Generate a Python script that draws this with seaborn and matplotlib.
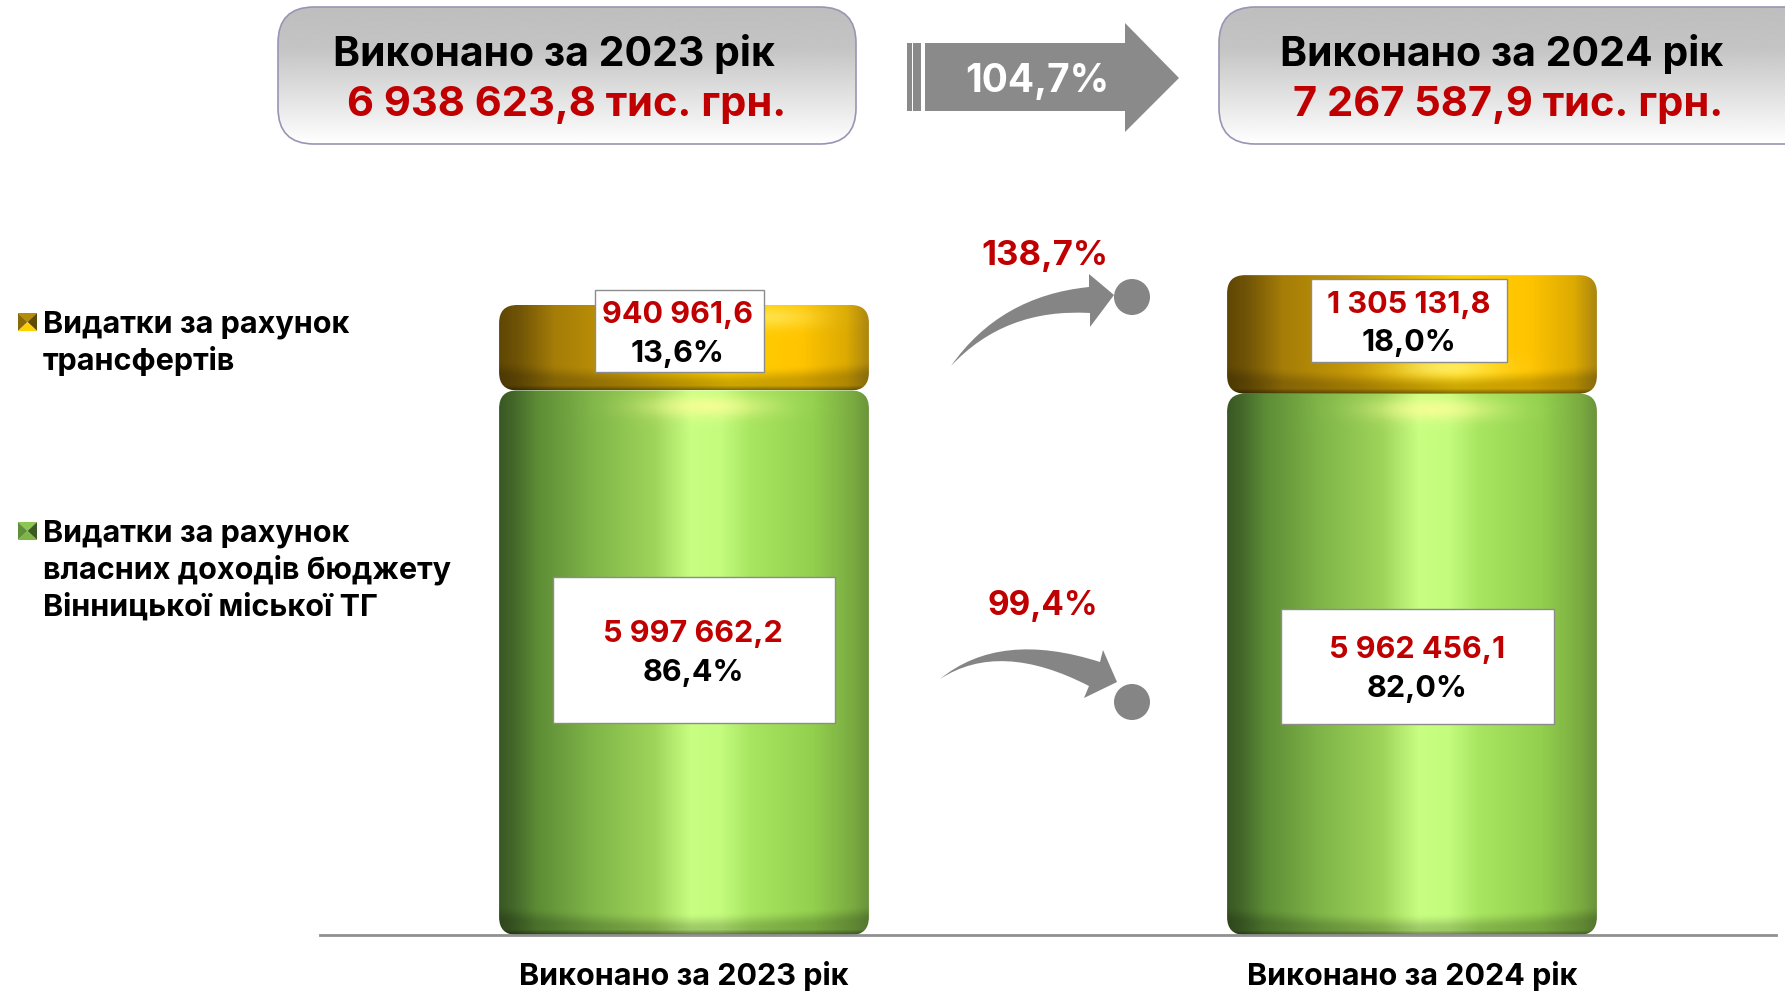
"""Stacked budget bars with glossy gradient fill and slide-style callouts."""
import matplotlib
matplotlib.use("Agg")
import matplotlib.pyplot as plt
import numpy as np
import pandas as pd
import seaborn as sns
from matplotlib.patches import Circle, FancyBboxPatch, PathPatch, Polygon, Rectangle
from matplotlib.path import Path as MPath
from matplotlib.transforms import IdentityTransform

OUT_PATH = "out.png"
W, H = 1785, 992

YEARS = ["Виконано за 2023 рік", "Виконано за 2024 рік"]
OWN_VALUES = [5997662.2, 5962456.1]
TRANSFER_VALUES = [940961.6, 1305131.8]
OWN_LABELS = ["5 997 662,2", "5 962 456,1"]
TRANSFER_LABELS = ["940 961,6", "1 305 131,8"]
OWN_SHARES = ["86,4%", "82,0%"]
TRANSFER_SHARES = ["13,6%", "18,0%"]
TOTAL_LABELS = ["6 938 623,8 тис. грн.", "7 267 587,9 тис. грн."]
GROWTH_TOTAL = "104,7%"
GROWTH_TRANSFER = "138,7%"
GROWTH_OWN = "99,4%"
LEGEND_TRANSFER = ["Видатки за рахунок", "трансфертів"]
LEGEND_OWN = ["Видатки за рахунок", "власних доходів бюджету", "Вінницької міської ТГ"]

RED = "#c00000"
GRAY = "#8a8a8a"
FONT = ["Inter", "DejaVu Sans"]
GREEN_STOPS = [(0.0, "#3a5724"), (0.04, "#44682a"), (0.1, "#5c8b35"), (0.25, "#7fb548"), (0.42, "#9fd45a"),
               (0.52, "#c8ff82"), (0.6, "#c4fc7e"), (0.68, "#a8e560"), (0.85, "#93d04e"), (0.96, "#79aa40"), (1.0, "#6a943a")]
GOLD_STOPS = [(0.0, "#5f4704"), (0.05, "#6f5306"), (0.15, "#a57d08"), (0.35, "#c89a05"), (0.5, "#e8b800"),
              (0.62, "#ffd000"), (0.82, "#ffc400"), (0.94, "#dcaa02"), (1.0, "#ab860f")]
PYRAMID_GOLD = ["#b58c08", "#8a6a08", "#5f4a04", "#ffd000"]  # top, left, right, bottom
PYRAMID_GREEN = ["#8cc850", "#5f8f38", "#3a5a22", "#7fb548"]


def rgb(c):
    return np.array(matplotlib.colors.to_rgb(c))


def shaded_image(stops, px_h, glow_x, glow_y, glow_w, glow_strength):
    """Cylinder shading: horizontal colour ramp, soft dark arc at the bottom, one glow spot."""
    xs = np.linspace(0, 1, 370)
    ys = np.arange(int(round(px_h))) + 0.5
    pos = [s[0] for s in stops]
    cols = np.array([rgb(s[1]) for s in stops])
    ramp = np.stack([np.interp(xs, pos, cols[:, i]) for i in range(3)], axis=1)
    img = np.repeat(ramp[None, :, :], len(ys), axis=0)

    gx, gy = np.meshgrid(xs, ys)
    depth = px_h - gy
    t = np.clip((22 + 8 * (2 * gx - 1) ** 2 - depth) / 16.0, 0, 1)
    band = 1 - 0.2 * t * t * (3 - 2 * t)
    edge = 1 - 0.4 * np.clip((5 - depth) / 5.0, 0, 1)
    img = img * (band * edge)[:, :, None]

    g = np.exp(-((gx - glow_x) / glow_w) ** 2 - ((gy - glow_y * px_h) / 11.0) ** 2)[:, :, None] * glow_strength
    img = img + (np.array([1.0, 1.0, 0.6]) - img) * g
    return np.clip(img, 0, 1)


sns.set_theme(style="white")
plt.rcParams["font.family"] = FONT
plt.rcParams["font.weight"] = "bold"
plt.rcParams["text.color"] = "black"

fig = plt.figure(figsize=(W / 100, H / 100), dpi=100, facecolor="white")

# bar axes: baseline ends in px, mapped to figure fractions
ax = fig.add_axes([320 / W, 1 - 935 / H, (1776 - 320) / W, (935 - 100) / H])
df = pd.DataFrame({"year": YEARS, "own": OWN_VALUES, "transfer": TRANSFER_VALUES})
px_per_unit = 630 / (OWN_VALUES[0] + TRANSFER_VALUES[0])
y_max = 835 / px_per_unit

sns.barplot(data=df, x="year", y="own", width=0.508, color="#8cc24a", ax=ax, zorder=1)
sns.barplot(data=df, x="year", y="transfer", bottom=df["own"], width=0.508, color="#f5c800", ax=ax, zorder=1)
ax.set_xlim(-0.5, 1.5)
ax.set_ylim(0, y_max)
ax.set_xlabel("")
ax.set_ylabel("")
ax.set_yticks([])
sns.despine(ax=ax, left=True)
ax.spines["bottom"].set_color("#909090")
ax.spines["bottom"].set_linewidth(2)
ax.patch.set_alpha(0)
ax.tick_params(axis="x", length=0, pad=19)
for t in ax.get_xticklabels():
    t.set_fontsize(22)
    t.set_fontweight("bold")
    t.set_color("black")

# replace the flat bars by gradient images clipped to rounded shapes
GOLD_GLOW = [(0.72, 0.15, 0.14, 0.45), (0.59, 0.78, 0.14, 0.6)]
gold_i = 0
fig.canvas.draw()
for bar in list(ax.patches):
    x0, y0, bw, bh = bar.get_x(), bar.get_y(), bar.get_width(), bar.get_height()
    if y0 > 0:
        img = shaded_image(GOLD_STOPS, bh * px_per_unit, *GOLD_GLOW[gold_i])
        gold_i += 1
    else:
        img = shaded_image(GREEN_STOPS, bh * px_per_unit, 0.56, 0.03, 0.16, 0.75)
    bar.set_visible(False)
    im = ax.imshow(img, extent=(x0, x0 + bw, y0, y0 + bh), aspect="auto", zorder=2, interpolation="bilinear")
    a = ax.transData.transform((x0, y0))
    b = ax.transData.transform((x0 + bw, y0 + bh))
    clip = FancyBboxPatch(tuple(a), b[0] - a[0], b[1] - a[1], boxstyle="round,pad=0,rounding_size=18",
                          transform=IdentityTransform())
    im.set_clip_path(clip)
ax.set_xlim(-0.5, 1.5)
ax.set_ylim(0, y_max)

# overlay in pixel coordinates for the slide furniture
ov = fig.add_axes([0, 0, 1, 1], zorder=5)
ov.axis("off")
ov.patch.set_alpha(0)


def top_box(x0, x1):
    grad = np.interp(np.linspace(0, 1, 200), [0, 0.3, 1], [0.745, 0.77, 1.0])[:, None]
    patch = FancyBboxPatch((x0, 7), x1 - x0, 137, boxstyle="round,pad=0,rounding_size=36",
                           fc="none", ec="#9c93b4", lw=1.2, zorder=3)
    ov.add_patch(patch)
    im = ov.imshow(grad, cmap="gray", vmin=0, vmax=1, extent=(x0, x1, 144, 7), aspect="auto", zorder=2)
    im.set_clip_path(patch)


def pyramid(y0, colors):
    x0, x1, y1 = 18, 37, y0 + 18
    cx, cy = (x0 + x1) / 2, (y0 + y1) / 2
    ov.add_patch(Polygon([(x0, y0), (x1, y0), (cx, cy)], fc=colors[0], ec="none"))
    ov.add_patch(Polygon([(x0, y0), (x0, y1), (cx, cy)], fc=colors[1], ec="none"))
    ov.add_patch(Polygon([(x1, y0), (x1, y1), (cx, cy)], fc=colors[2], ec="none"))
    ov.add_patch(Polygon([(x0, y1), (x1, y1), (cx, cy)], fc=colors[3], ec="none"))


top_box(278, 856)
top_box(1219, 1850)

ov.text(554, 54, YEARS[0], fontsize=29.5, color="black", ha="center", va="center")
ov.text(567, 105, TOTAL_LABELS[0], fontsize=30, color=RED, ha="center", va="center")
ov.text(1502, 54, YEARS[1], fontsize=29.5, color="black", ha="center", va="center")
ov.text(1508, 105, TOTAL_LABELS[1], fontsize=30, color=RED, ha="center", va="center")

# block arrow with the stripes at its tail
ov.add_patch(Polygon([(925, 43), (1125, 43), (1125, 23), (1179, 78), (1125, 132), (1125, 111), (925, 111)],
                     closed=True, fc=GRAY, ec="none"))
ov.add_patch(Rectangle((907, 43), 5, 68, fc=GRAY, ec="none"))
ov.add_patch(Rectangle((913, 43), 8, 68, fc=GRAY, ec="none"))
ov.text(1037, 82, GROWTH_TOTAL, fontsize=28, color="white", ha="center", va="center")

# curved arrows
C3 = MPath.CURVE3
codes = [MPath.MOVETO, C3, C3, MPath.LINETO, MPath.LINETO, MPath.LINETO, MPath.LINETO, C3, C3]
up_verts = [(951, 366), (1000, 296), (1089, 287), (1089, 274), (1114, 295), (1090, 327),
            (1090, 313), (1005, 308), (951, 366)]
down_verts = [(940, 679), (1000, 630), (1100, 662), (1103, 650), (1117, 682), (1084, 698),
              (1089, 686), (1000, 640), (940, 679)]
ov.add_patch(PathPatch(MPath(up_verts, codes), fc="#858585", ec="none"))
ov.add_patch(PathPatch(MPath(down_verts, codes), fc="#858585", ec="none"))
ov.add_patch(Circle((1132, 297), 18, fc="#858585", ec="none"))
ov.add_patch(Circle((1132, 702), 18, fc="#858585", ec="none"))
ov.text(1045, 256, GROWTH_TRANSFER, fontsize=25, color=RED, ha="center", va="center")
ov.text(1043, 606, GROWTH_OWN, fontsize=24, color=RED, ha="center", va="center")

# value boxes on the bars
boxes = [
    (595, 290, 169, 82, 678, 315, 354, TRANSFER_LABELS[0], TRANSFER_SHARES[0]),
    (1311, 279, 196, 83, 1409, 305, 343, TRANSFER_LABELS[1], TRANSFER_SHARES[1]),
    (553, 577, 282, 146, 693, 634, 673, OWN_LABELS[0], OWN_SHARES[0]),
    (1281, 609, 273, 115, 1417, 650, 689, OWN_LABELS[1], OWN_SHARES[1]),
]
for bx, by, bw, bh, cx, y1, y2, label, share in boxes:
    ov.add_patch(Rectangle((bx, by), bw, bh, fc="white", ec="#8c8c8c", lw=1.0))
    ov.text(cx, y1, label, fontsize=22, color=RED, ha="center", va="center")
    ov.text(cx, y2, share, fontsize=22, color="black", ha="center", va="center")

# legend
pyramid(313, PYRAMID_GOLD)
pyramid(522, PYRAMID_GREEN)
for line, y in zip(LEGEND_TRANSFER, [325, 361]):
    ov.text(43, y, line, fontsize=22, color="black", va="center")
for line, y in zip(LEGEND_OWN, [534, 570, 607]):
    ov.text(43, y, line, fontsize=22, color="black", va="center")

ov.set_xlim(0, W)
ov.set_ylim(H, 0)

fig.savefig(OUT_PATH, dpi=100)
